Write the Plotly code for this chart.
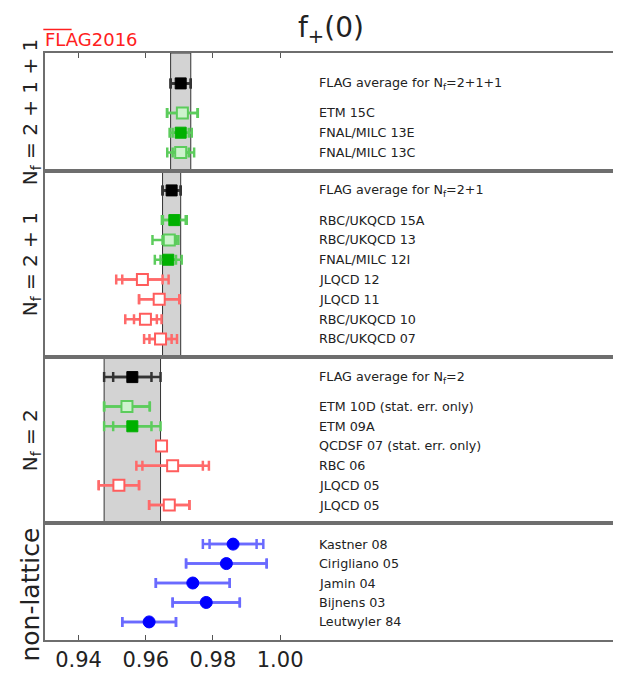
import plotly.graph_objects as go
from plotly.subplots import make_subplots

# ---------------- data ----------------
labels_4f = ["FLAG average for N<sub>f</sub>=2+1+1", "ETM 15C", "FNAL/MILC 13E", "FNAL/MILC 13C"]
values_4f = [0.9704, 0.9709, 0.9704, 0.9704]
stat_4f = [0.0030, 0.0045, 0.0024, 0.0024]
errp_4f = [0.0030, 0.0046, 0.0033, 0.0040]
errm_4f = [0.0030, 0.0046, 0.0033, 0.0040]
kind_4f = ["avg", "open_g", "fill_g", "open_g"]

labels_3f = ["FLAG average for N<sub>f</sub>=2+1", "RBC/UKQCD 15A", "RBC/UKQCD 13", "FNAL/MILC 12I",
             "JLQCD 12", "JLQCD 11", "RBC/UKQCD 10", "RBC/UKQCD 07"]
values_3f = [0.9677, 0.9685, 0.9670, 0.9667, 0.959, 0.964, 0.9599, 0.9644]
stat_3f = [0.0027, 0.0034, 0.0020, 0.0023, 0.006, 0.006, 0.0034, 0.0033]
errp_3f = [0.0027, 0.0037, 0.0027, 0.0040, 0.0078, 0.006, 0.0048, 0.0049]
errm_3f = [0.0027, 0.0037, 0.0050, 0.0040, 0.0078, 0.006, 0.0060, 0.0049]
kind_3f = ["avg", "fill_g", "open_g", "fill_g", "open_r", "open_r", "open_r", "open_r"]

labels_2f = ["FLAG average for N<sub>f</sub>=2", "ETM 10D (stat. err. only)", "ETM 09A",
             "QCDSF 07 (stat. err. only)", "RBC 06", "JLQCD 05", "JLQCD 05"]
values_2f = [0.9560, 0.9544, 0.9560, 0.9647, 0.968, 0.952, 0.967]
stat_2f = [0.0057, 0.0068, 0.0057, 0.0015, 0.009, 0.006, 0.006]
errp_2f = [0.0084, 0.0068, 0.0084, 0.0015, 0.0108, 0.006, 0.006]
errm_2f = [0.0084, 0.0068, 0.0084, 0.0015, 0.0108, 0.006, 0.006]
kind_2f = ["avg", "open_g", "fill_g", "open_r", "open_r", "open_r", "open_r"]

labels_nl = ["Kastner 08", "Cirigliano 05", "Jamin 04", "Bijnens 03", "Leutwyler 84"]
values_nl = [0.986, 0.984, 0.974, 0.978, 0.961]
stat_nl = [0.007, 0.012, 0.011, 0.010, 0.008]
errp_nl = [0.009, 0.012, 0.011, 0.010, 0.008]
errm_nl = [0.009, 0.012, 0.011, 0.010, 0.008]
kind_nl = ["nl", "nl", "nl", "nl", "nl"]

panel_titles = ["N<sub>f</sub> = 2 + 1 + 1", "N<sub>f</sub> = 2 + 1", "N<sub>f</sub> = 2", "non-lattice"]
xticks = [0.94, 0.96, 0.98, 1.00]

# ---------------- styles ----------------
MK = {
    "avg": dict(symbol="square", color="#000000", line=dict(color="#000000", width=1), size=11),
    "fill_g": dict(symbol="square", color="#00b000", line=dict(color="#00b000", width=1), size=11),
    "open_g": dict(symbol="square", color="#cdf3cd", line=dict(color="#5ccc5c", width=2), size=11),
    "open_r": dict(symbol="square", color="#ffffff", line=dict(color="#ff5c5c", width=2), size=11),
    "nl": dict(symbol="circle", color="#0000ff", line=dict(color="#0000ff", width=1), size=12),
}
EC = {"avg": "#333333", "fill_g": "#5ccc5c", "open_g": "#5ccc5c",
      "open_r": "#ff6a6a", "nl": "#6a6aff"}

groups = [
    (labels_4f, values_4f, stat_4f, errp_4f, errm_4f, kind_4f, True),
    (labels_3f, values_3f, stat_3f, errp_3f, errm_3f, kind_3f, True),
    (labels_2f, values_2f, stat_2f, errp_2f, errm_2f, kind_2f, True),
    (labels_nl, values_nl, stat_nl, errp_nl, errm_nl, kind_nl, False),
]
yranges = [[0.04, 6.04], [0.08, 9.46], [0.07, 8.51], [0.07, 6.07]]
heights = [119.3, 187.3, 167.4, 117.6]

fig = make_subplots(rows=4, cols=1, shared_xaxes=True, vertical_spacing=0,
                    row_heights=heights)

LABEL_FONT = dict(family="DejaVu Sans", size=12.7, color="#222222")

for r, (labs, vals, st, ep, em, kinds, has_avg) in enumerate(groups, start=1):
    n = len(labs)
    ys = []
    for i in range(n):
        if has_avg:
            ys.append(n + 0.5 if i == 0 else n - i)
        else:
            ys.append(n - i)
    sfx = '' if r == 1 else str(r)
    if has_avg:
        fig.add_shape(type="rect", xref=f"x{sfx}", yref=f"y{sfx} domain",
                      x0=vals[0] - em[0], x1=vals[0] + ep[0], y0=0, y1=1,
                      fillcolor="#d3d3d3", line=dict(color="#333333", width=1),
                      layer="below")
    for i in range(n):
        k = kinds[i]
        # total error
        fig.add_trace(go.Scatter(
            x=[vals[i]], y=[ys[i]], mode="markers",
            marker=dict(color="rgba(0,0,0,0)", size=1),
            error_x=dict(type="data", symmetric=False, array=[ep[i]], arrayminus=[em[i]],
                         color=EC[k], thickness=2.5, width=5),
            showlegend=False, hoverinfo="skip"), row=r, col=1)
        # stat error + marker
        fig.add_trace(go.Scatter(
            x=[vals[i]], y=[ys[i]], mode="markers",
            marker=MK[k],
            error_x=dict(type="data", symmetric=True, array=[st[i]],
                         color=EC[k], thickness=2.5, width=5),
            showlegend=False, hoverinfo="skip"), row=r, col=1)
        fig.add_annotation(x=1.011, y=ys[i], xref=f"x{sfx}", yref=f"y{sfx}", text=labs[i],
                           xanchor="left", yanchor="middle", showarrow=False,
                           font=LABEL_FONT)

# axes
for r in range(1, 5):
    fig.update_yaxes(range=yranges[r - 1], showticklabels=False, ticks="",
                     showgrid=False, zeroline=False, showline=True, mirror=True,
                     linecolor="#6e6e6e", linewidth=2, row=r, col=1)
    fig.update_xaxes(range=[0.93, 1.10], showgrid=False, zeroline=False,
                     showline=True, mirror=True, linecolor="#6e6e6e", linewidth=2,
                     tickvals=xticks, row=r, col=1)
fig.update_xaxes(ticks="", showticklabels=False, row=2, col=1)
fig.update_xaxes(ticks="", showticklabels=False, row=3, col=1)
fig.update_xaxes(ticks="inside", ticklen=5, tickcolor="#555555", showticklabels=False,
                 side="top", row=1, col=1)
fig.update_xaxes(ticks="inside", ticklen=5, tickcolor="#555555", showticklabels=True,
                 tickformat=".2f", tickfont=dict(family="DejaVu Sans", size=21, color="#222222"),
                 row=4, col=1)

# panel labels (left)
tot = sum(heights)
PW = 573.0
bounds = []
acc = 0
for h in heights:
    bounds.append((1 - (acc + h) / tot, 1 - acc / tot))
    acc += h
for j, t in enumerate(panel_titles):
    y0, y1 = bounds[j]
    yc = (y0 + y1) / 2
    if j == 3:
        yc -= 13 / tot
    fig.add_annotation(x=-14 / PW, y=yc, xref="paper", yref="paper", text=t,
                       textangle=-90, showarrow=False, xanchor="center", yanchor="middle",
                       font=dict(family="DejaVu Sans", size=25 if j == 3 else 20, color="#222222"))

# title and FLAG logo
fig.add_annotation(x=287 / PW, y=1 + 24 / tot, xref="paper", yref="paper",
                   text="f<sub>+</sub>(0)", showarrow=False, xanchor="center", yanchor="middle",
                   font=dict(family="DejaVu Sans", size=28, color="#222222"))
fig.add_annotation(x=-2 / PW, y=1 + 14 / tot, xref="paper", yref="paper",
                   text="FLAG2016", showarrow=False, xanchor="left", yanchor="middle",
                   font=dict(family="DejaVu Sans", size=18, color="#ff2020"))
fig.add_shape(type="line", xref="paper", yref="paper",
              x0=-1.7 / PW, x1=26.7 / PW, y0=1 + 23.7 / tot, y1=1 + 23.7 / tot,
              line=dict(color="#ff2020", width=1.5))

# page body has an 8px margin: size the figure so the plot lands where the reference has it
fig.update_layout(width=613, height=667, margin=dict(l=37, r=3, t=45, b=31),
                  paper_bgcolor="white", plot_bgcolor="white", showlegend=False)

fig.write_html("out.html")
